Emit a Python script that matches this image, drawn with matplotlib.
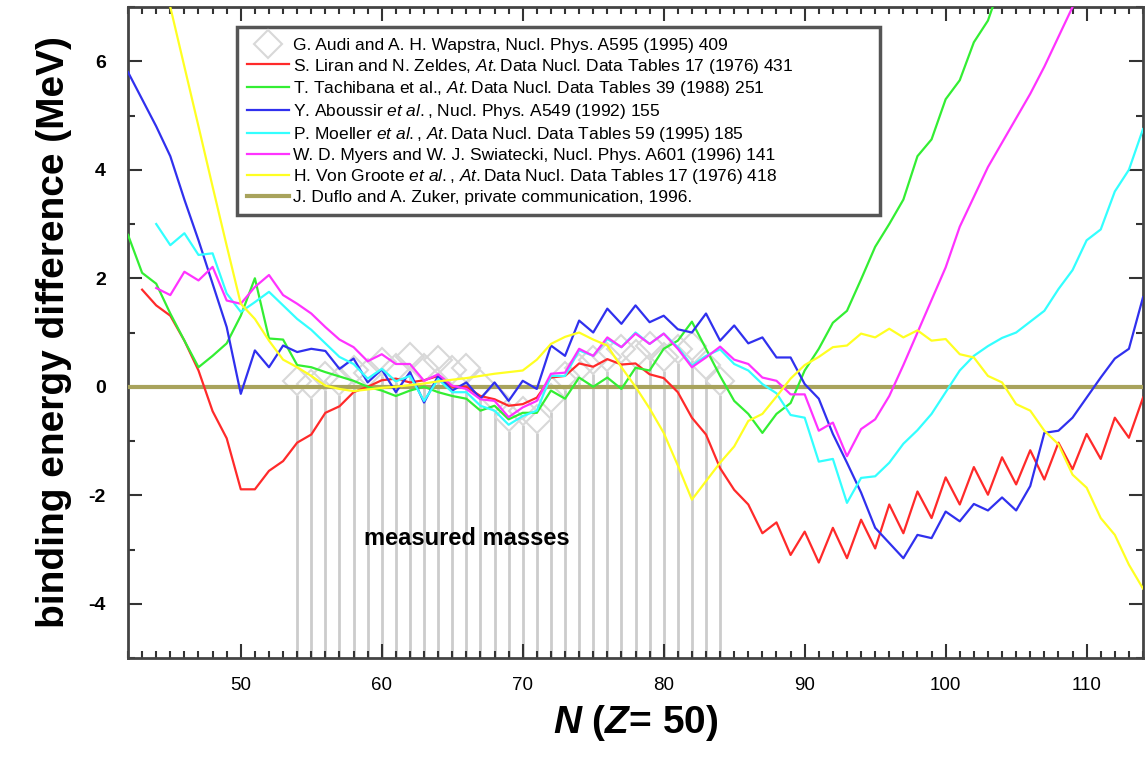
import numpy as np
import matplotlib
matplotlib.use('Agg')
import matplotlib.pyplot as plt
from matplotlib.ticker import MultipleLocator

plt.rcParams['font.family'] = ['Liberation Sans', 'DejaVu Sans']
plt.rcParams['axes.unicode_minus'] = False
plt.rcParams['mathtext.fontset'] = 'custom'
plt.rcParams['mathtext.rm'] = 'Liberation Sans'
plt.rcParams['mathtext.it'] = 'Liberation Sans:italic'
plt.rcParams['mathtext.bf'] = 'Liberation Sans:bold'
plt.rcParams['mathtext.bfit'] = 'Liberation Sans:bold:italic'

# Данные: разность энергий связи относительно Duflo-Zuker, Z = 50
audi_n = list(range(54, 85))
audi_v = [0.1, 0.05, 0.2, 0.1, 0.3, 0.25, 0.45, 0.35, 0.55, 0.35, 0.5, 0.3, 0.35, 0.05, -0.2,
          -0.55, -0.45, -0.6, -0.2, 0.2, 0.35, 0.5, 0.55, 0.7, 0.6, 0.75, 0.55, 0.7, 0.75, 0.4, 0.1]

liran_n = list(range(43, 115))
liran_v = [1.79, 1.5, 1.31, 0.85, 0.3, -0.45, -0.95, -1.89, -1.89, -1.55, -1.37, -1.03, -0.88, -0.48,
           -0.36, -0.1, 0.0, 0.12, 0.15, 0.08, 0.12, 0.2, 0.0, 0.0, -0.17, -0.23, -0.35, -0.32, -0.2,
           0.17, 0.2, 0.43, 0.37, 0.51, 0.41, 0.43, 0.23, 0.16, -0.1, -0.57, -0.88, -1.5, -1.9, -2.17,
           -2.7, -2.5, -3.1, -2.67, -3.24, -2.6, -3.16, -2.45, -2.98, -2.17, -2.7, -1.93, -2.42, -1.67,
           -2.17, -1.48, -1.99, -1.3, -1.8, -1.17, -1.71, -1.03, -1.52, -0.87, -1.33, -0.57, -0.94, -0.2]

tach_n = list(range(42, 105))
tach_v = [2.8, 2.1, 1.9, 1.35, 0.85, 0.36, 0.57, 0.8, 1.31, 2.0, 0.89, 0.87, 0.4, 0.36, 0.27, 0.19,
          0.11, 0.0, -0.07, -0.17, -0.07, 0.0, -0.1, -0.17, -0.22, -0.44, -0.35, -0.6, -0.48, -0.48,
          -0.07, -0.22, 0.17, 0.0, 0.17, -0.04, 0.35, 0.3, 0.7, 0.85, 1.2, 0.7, 0.2, -0.26, -0.5,
          -0.85, -0.5, -0.3, 0.3, 0.7, 1.18, 1.4, 1.98, 2.58, 3.0, 3.45, 4.25, 4.56, 5.3, 5.65, 6.35,
          6.75, 7.5]

abou_n = list(range(42, 115))
abou_v = [5.8, 5.3, 4.8, 4.25, 3.45, 2.7, 1.9, 1.1, -0.13, 0.67, 0.36, 0.76, 0.64, 0.7, 0.66, 0.33,
          0.52, 0.08, 0.32, -0.1, 0.27, -0.29, 0.2, -0.07, 0.08, -0.22, 0.08, -0.26, 0.11, -0.04,
          0.76, 0.57, 1.22, 1.0, 1.44, 1.16, 1.5, 1.19, 1.31, 1.06, 1.0, 1.35, 0.85, 1.13, 0.8, 0.91,
          0.54, 0.54, 0.05, -0.22, -0.87, -1.4, -1.95, -2.6, -2.88, -3.16, -2.73, -2.79, -2.3, -2.48,
          -2.16, -2.28, -2.04, -2.28, -1.83, -0.85, -0.81, -0.57, -0.2, 0.17, 0.52, 0.7, 1.65]

moel_n = list(range(44, 115))
moel_v = [3.0, 2.61, 2.83, 2.43, 2.46, 1.72, 1.38, 1.56, 1.75, 1.5, 1.25, 1.05, 0.8, 0.55, 0.42,
          0.15, 0.33, 0.1, 0.2, -0.26, 0.14, -0.1, -0.1, -0.35, -0.44, -0.7, -0.54, -0.44, 0.2, 0.2,
          0.67, 0.57, 0.88, 0.73, 1.0, 0.79, 0.98, 0.73, 0.39, 0.57, 0.69, 0.42, 0.3, 0.05, -0.12,
          -0.52, -0.57, -1.38, -1.33, -2.14, -1.68, -1.65, -1.4, -1.05, -0.8, -0.5, -0.1, 0.3, 0.57,
          0.75, 0.9, 1.0, 1.2, 1.4, 1.8, 2.15, 2.7, 2.9, 3.6, 4.0, 4.75]

myers_n = list(range(44, 111))
myers_v = [1.82, 1.69, 2.12, 1.96, 2.21, 1.59, 1.53, 1.84, 2.06, 1.69, 1.53, 1.35, 1.1, 0.87, 0.73,
           0.47, 0.6, 0.42, 0.42, 0.11, 0.23, 0.02, -0.04, -0.23, -0.26, -0.56, -0.38, -0.26, 0.24,
           0.26, 0.7, 0.57, 0.91, 0.73, 0.98, 0.79, 0.98, 0.7, 0.36, 0.54, 0.74, 0.5, 0.42, 0.17,
           0.11, -0.14, -0.14, -0.81, -0.66, -1.28, -0.78, -0.6, -0.17, 0.4, 1.0, 1.6, 2.2, 2.95, 3.5,
           4.05, 4.5, 4.95, 5.4, 5.9, 6.45, 7.0, 7.6]

groote_n = list(range(45, 115))
groote_v = [7.0, 5.9, 4.8, 3.69, 2.6, 1.53, 1.25, 0.85, 0.5, 0.36, 0.2, 0.02, -0.04, -0.08, -0.05,
            -0.02, 0.0, 0.03, 0.06, 0.1, 0.13, 0.16, 0.2, 0.24, 0.27, 0.3, 0.5, 0.79, 0.92, 1.0, 0.87,
            0.76, 0.36, 0.0, -0.4, -0.85, -1.45, -2.08, -1.74, -1.4, -1.1, -0.63, -0.5, -0.18, 0.15,
            0.4, 0.55, 0.73, 0.76, 0.98, 0.91, 1.07, 0.91, 1.04, 0.85, 0.88, 0.6, 0.54, 0.2, 0.08,
            -0.32, -0.44, -0.81, -1.06, -1.62, -1.86, -2.42, -2.73, -3.28, -3.72]

dz_n = [42, 114]
dz_v = [0.0, 0.0]

labels = [
    "G. Audi and A. H. Wapstra, Nucl. Phys. A595 (1995) 409",
    r"S. Liran and N. Zeldes, $\it{At.}$Data Nucl. Data Tables 17 (1976) 431",
    r"T. Tachibana et al., $\it{At.}$Data Nucl. Data Tables 39 (1988) 251",
    r"Y. Aboussir $\it{et\ al.}$, Nucl. Phys. A549 (1992) 155",
    r"P. Moeller $\it{et\ al.}$, $\it{At.}$Data Nucl. Data Tables 59 (1995) 185",
    "W. D. Myers and W. J. Swiatecki, Nucl. Phys. A601 (1996) 141",
    r"H. Von Groote $\it{et\ al.}$, $\it{At.}$Data Nucl. Data Tables 17 (1976) 418",
    "J. Duflo and A. Zuker, private communication, 1996.",
]

fig = plt.figure(figsize=(11.46, 7.61), dpi=100)
ax = fig.add_axes([0.1117, 0.1353, 0.8857, 0.8555])

# измеренные массы: вертикальные линии + ромбы
audi_v = np.array(audi_v)
ax.vlines(audi_n, -5, audi_v - 0.26, colors='#cccccc', lw=2, zorder=1)
ax.plot(audi_n, audi_v, ls='none', marker='D', ms=14, mfc='none', mec='#d8d8d8', mew=1.5,
        zorder=2, label=labels[0])

ax.plot(liran_n, liran_v, color='#ff2a2a', lw=1.6, zorder=4, label=labels[1])
ax.plot(tach_n, tach_v, color='#33ee33', lw=1.6, zorder=4, label=labels[2])
ax.plot(abou_n, abou_v, color='#3030ee', lw=1.6, zorder=4, label=labels[3])
ax.plot(moel_n, moel_v, color='#33ffff', lw=1.6, zorder=4, label=labels[4])
ax.plot(myers_n, myers_v, color='#ff33ff', lw=1.6, zorder=4, label=labels[5])
ax.plot(groote_n, groote_v, color='#ffff22', lw=1.6, zorder=4, label=labels[6])
ax.plot(dz_n, dz_v, color='#a8a35c', lw=3, zorder=3, label=labels[7])

ax.text(66, -2.8, 'measured masses', ha='center', va='center', fontsize=17, fontweight='bold')

ax.set_xlim(42, 114)
ax.set_ylim(-5, 7)
ax.xaxis.set_major_locator(MultipleLocator(10))
ax.xaxis.set_minor_locator(MultipleLocator(1))
ax.yaxis.set_major_locator(MultipleLocator(2))
ax.yaxis.set_minor_locator(MultipleLocator(1))
ax.tick_params(which='both', direction='in', top=True, right=True, width=1.5, color='#333333')
ax.tick_params(which='major', length=10)
ax.tick_params(which='minor', length=5)
ax.tick_params(axis='x', pad=14, labelsize=13.5)
ax.tick_params(axis='y', pad=16, labelsize=14)
for t in ax.get_yticklabels():
    t.set_fontweight('bold')
for s in ax.spines.values():
    s.set_color('#444444')
    s.set_linewidth(2)

ax.set_ylabel('binding energy difference (MeV)', fontsize=28, fontweight='bold', labelpad=12)
ax.set_xlabel(r'$\mathbfit{N}$ ($\mathbfit{Z}$= 50)', fontsize=28, fontweight='bold', labelpad=6)

leg = ax.legend(loc='upper left', bbox_to_anchor=(0.1074, 0.676, 0.6335, 0.293), mode='expand',
                borderaxespad=0, fontsize=12.5, handlelength=2.4, handletextpad=0.2,
                borderpad=0.6, labelspacing=0.22, fancybox=False, framealpha=1,
                edgecolor='#555555')
leg.get_frame().set_linewidth(2.5)

fig.savefig('out.png', dpi=100)
